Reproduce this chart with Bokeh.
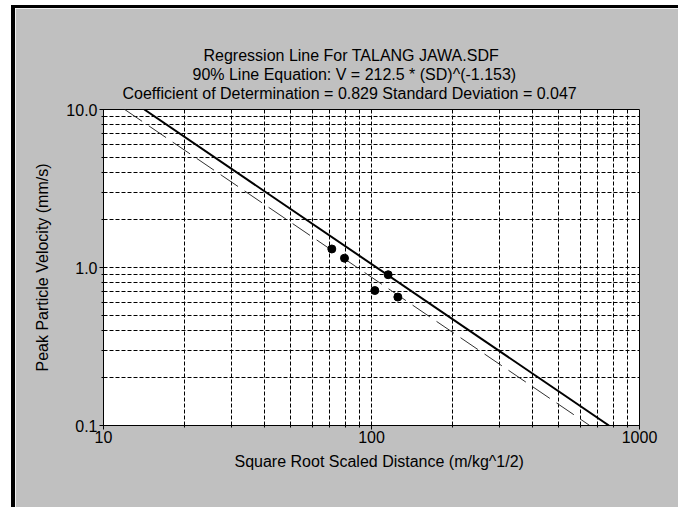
from bokeh.plotting import figure
from bokeh.models import FixedTicker, PrintfTickFormatter, Title
from bokeh.embed import file_html
from bokeh.resources import INLINE

# Observed blasting records (square-root scaled distance, peak particle velocity)
sd = [71.1, 79.3, 115.4, 102.9, 125.4]
ppv = [1.31, 1.145, 0.90, 0.715, 0.65]

# 90% regression line V = 212.5 * SD^-1.153 (end points where it meets the plot edges)
sd_90 = [14.2, 769.0]
v_90 = [10.0, 0.1]
# best-fit (dashed) line, same slope
sd_50 = [12.0, 652.0]
v_50 = [10.0, 0.1]

title_lines = [
    "Regression Line For TALANG JAWA.SDF",
    "90% Line Equation: V = 212.5 * (SD)^(-1.153)",
    "Coefficient of Determination = 0.829  Standard Deviation = 0.047",
]
x_label = "Square Root Scaled Distance (m/kg^1/2)"
y_label = "Peak Particle Velocity (mm/s)"

x_major = [10, 100, 1000]
x_minor = [20, 30, 40, 50, 60, 70, 80, 90, 200, 300, 400, 500, 600, 700, 800, 900]
y_major = [0.1, 1.0, 10.0]
y_minor = [0.2, 0.3, 0.4, 0.5, 0.6, 0.7, 0.8, 0.9, 2, 3, 4, 5, 6, 7, 8, 9]

FONT = "Liberation Sans"
GRAY = "#c0c0c0"

p = figure(
    x_axis_type="log", y_axis_type="log",
    x_range=(10, 1000), y_range=(0.1, 10),
    frame_width=536, frame_height=316,
    min_border_left=88, min_border_right=39,
    min_border_top=101, min_border_bottom=82,
    output_backend="svg", toolbar_location=None, title=None,
)
p.styles = {
    "border-left": "4px solid black",
    "border-top": "3px solid black",
    "margin-left": "11px",
    "margin-top": "5px",
}
p.border_fill_color = GRAY
p.background_fill_color = "white"
p.outline_line_color = "black"
p.outline_line_width = 1
p.outline_line_alpha = 1

p.xaxis.ticker = FixedTicker(ticks=x_major, minor_ticks=x_minor)
p.yaxis.ticker = FixedTicker(ticks=y_major, minor_ticks=y_minor)
p.xaxis.formatter = PrintfTickFormatter(format="%d")
p.yaxis.formatter = PrintfTickFormatter(format="%.1f")

for ax in (p.xaxis, p.yaxis):
    ax.axis_line_color = "black"
    ax.major_tick_line_color = "black"
    ax.minor_tick_line_color = "black"
    ax.major_tick_in = 3
    ax.major_tick_out = 4
    ax.minor_tick_in = 2
    ax.minor_tick_out = 2
    ax.major_label_text_font = FONT
    ax.major_label_text_font_size = "16px"
    ax.major_label_text_color = "black"
    ax.axis_label_text_font = FONT
    ax.axis_label_text_font_size = "16px"
    ax.axis_label_text_font_style = "normal"
    ax.axis_label_text_color = "black"

p.xaxis.major_label_standoff = 1
p.yaxis.major_label_standoff = 2
p.yaxis.axis_label = y_label
p.yaxis.axis_label_standoff = 12

for g in (p.xgrid, p.ygrid):
    g.grid_line_color = "black"
    g.grid_line_dash = "4 2"
    g.grid_line_width = 1
    g.minor_grid_line_color = "black"
    g.minor_grid_line_dash = "4 2"
    g.minor_grid_line_width = 1

p.line(sd_50, v_50, line_color="#303030", line_width=1, line_dash="21 8")
p.line(sd_90, v_90, line_color="black", line_width=2)
p.scatter(sd, ppv, size=8, fill_color="black", line_color="black")

# Title lines: added innermost first (line 3 sits just above the plot)
title_offsets = [100, 89, 19]
title_standoffs = [16, -16, 16]
for txt, off, so in reversed(list(zip(title_lines, title_offsets, title_standoffs))):
    p.add_layout(Title(text=txt, align="left", offset=off, standoff=so,
                       text_font=FONT, text_font_size="16px", text_font_style="normal",
                       text_color="black"), "above")

# x-axis caption below the tick labels
p.add_layout(Title(text=x_label, align="left", offset=131, standoff=15, vertical_align="top",
                   text_font=FONT, text_font_size="16px", text_font_style="normal",
                   text_color="black"), "below")

open("out.html", "w").write(file_html(p, INLINE))
